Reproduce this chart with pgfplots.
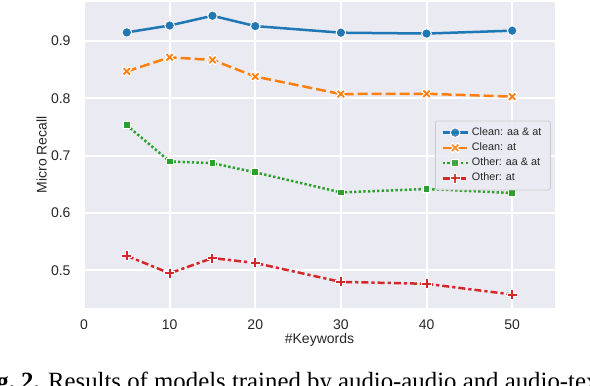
\documentclass[border=0pt]{standalone}
\usepackage{fontspec}
\setmainfont{Liberation Sans}
\newfontfamily\capfont{Liberation Serif}
\usepackage{pgfplots}
\pgfplotsset{compat=1.18}
\definecolor{sbblue}{HTML}{1F77B4}
\definecolor{sborange}{HTML}{FF7F0E}
\definecolor{sbgreen}{HTML}{2CA02C}
\definecolor{sbred}{HTML}{D62728}
\definecolor{sbbg}{HTML}{EAEAF2}
\definecolor{sbtext}{HTML}{262626}
\pgfdeclareplotmark{fplus}{%
 \pgfpathmoveto{\pgfpoint{0.3\pgfplotmarksize}{\pgfplotmarksize}}%
 \pgfpathlineto{\pgfpoint{0.3\pgfplotmarksize}{0.3\pgfplotmarksize}}%
 \pgfpathlineto{\pgfpoint{\pgfplotmarksize}{0.3\pgfplotmarksize}}%
 \pgfpathlineto{\pgfpoint{\pgfplotmarksize}{-0.3\pgfplotmarksize}}%
 \pgfpathlineto{\pgfpoint{0.3\pgfplotmarksize}{-0.3\pgfplotmarksize}}%
 \pgfpathlineto{\pgfpoint{0.3\pgfplotmarksize}{-\pgfplotmarksize}}%
 \pgfpathlineto{\pgfpoint{-0.3\pgfplotmarksize}{-\pgfplotmarksize}}%
 \pgfpathlineto{\pgfpoint{-0.3\pgfplotmarksize}{-0.3\pgfplotmarksize}}%
 \pgfpathlineto{\pgfpoint{-\pgfplotmarksize}{-0.3\pgfplotmarksize}}%
 \pgfpathlineto{\pgfpoint{-\pgfplotmarksize}{0.3\pgfplotmarksize}}%
 \pgfpathlineto{\pgfpoint{-0.3\pgfplotmarksize}{0.3\pgfplotmarksize}}%
 \pgfpathlineto{\pgfpoint{-0.3\pgfplotmarksize}{\pgfplotmarksize}}%
 \pgfpathclose
 \pgfusepathqfillstroke}
\pgfdeclareplotmark{fX}{\pgftransformrotate{45}\pgfuseplotmark{fplus}}
\begin{document}
\begin{tikzpicture}
\path[use as bounding box, clip] (0,0) rectangle (295pt,-193pt);
\begin{axis}[
  at={(42pt,-153.85pt)}, anchor=south west,
  scale only axis, width=235.5pt, height=152.85pt,
  xmin=0, xmax=55, ymin=0.435, ymax=0.968,
  xtick={0,10,20,30,40,50},
  ytick={0.5,0.6,0.7,0.8,0.9},
  yticklabel style={/pgf/number format/fixed, /pgf/number format/precision=1, xshift=-3.2pt},
  xticklabel style={yshift=-2.7pt},
  /pgf/number format/assume math mode=true,
  tick label style={font=\fontsize{7}{8.4}\selectfont, text=sbtext},
  label style={font=\fontsize{7}{8.4}\selectfont, text=sbtext},
  major tick length=0pt,
  axis background/.style={fill=sbbg},
  axis line style={draw=none},
  grid=major,
  major grid style={white, line width=1pt},
  xlabel={\#Keywords},
  ylabel={Micro Recall},
  xlabel style={at={(axis description cs:0.5,-0.1155)}, anchor=base},
  ylabel style={at={(axis description cs:-0.0902,0.5)}, anchor=center},
  legend style={at={(0.991,0.612)}, anchor=north east, fill=sbbg, fill opacity=0.85, text opacity=1,
    draw=black!20, rounded corners=1pt, font=\fontsize{5.4}{6.4}\selectfont, text=sbtext,
    nodes={inner ysep=1.1pt, inner xsep=1.5pt}},
  legend cell align=left,
  legend image code/.code={\draw[mark repeat=2,mark phase=2] plot coordinates {(0cm,0cm) (0.22cm,0cm) (0.44cm,0cm)};},
  every axis plot/.append style={line width=1.25pt},
]
\addplot[sbblue, solid, mark=*, mark size=2.4pt, mark options={solid, fill=sbblue, draw=white, line width=0.5pt}]
  coordinates {(5,0.915)(10,0.927)(15,0.944)(20,0.926)(30,0.9145)(40,0.913)(50,0.918)};
\addlegendentry{Clean: aa \& at}
\addplot[sborange, dash pattern=on 5pt off 2pt, mark=fX, mark size=2.6pt, mark options={solid, fill=sborange, draw=white, line width=0.5pt}]
  coordinates {(5,0.847)(10,0.8715)(15,0.867)(20,0.838)(30,0.8075)(40,0.808)(50,0.803)};
\addlegendentry{Clean: at}
\addplot[sbgreen, dash pattern=on 1.2pt off 1.1pt, mark=square*, mark size=1.7pt, mark options={solid, fill=sbgreen, draw=white, line width=0.5pt}]
  coordinates {(5,0.753)(10,0.690)(15,0.687)(20,0.671)(30,0.636)(40,0.642)(50,0.635)};
\addlegendentry{Other: aa \& at}
\addplot[sbred, dash pattern=on 3.5pt off 1.5pt on 1.6pt off 1.5pt, mark=fplus, mark size=2.5pt, mark options={solid, fill=sbred, draw=white, line width=0.5pt}]
  coordinates {(5,0.5255)(10,0.495)(15,0.5215)(20,0.513)(30,0.480)(40,0.4767)(50,0.458)};
\addlegendentry{Other: at}
\end{axis}
\node[anchor=base west, inner sep=0pt, font=\capfont\fontsize{12.4}{14}\selectfont] at (-13pt,-194.5pt)
  {\textbf{Fig.~2.} Results of models trained by audio-audio and audio-text objectives};
\end{tikzpicture}
\end{document}
